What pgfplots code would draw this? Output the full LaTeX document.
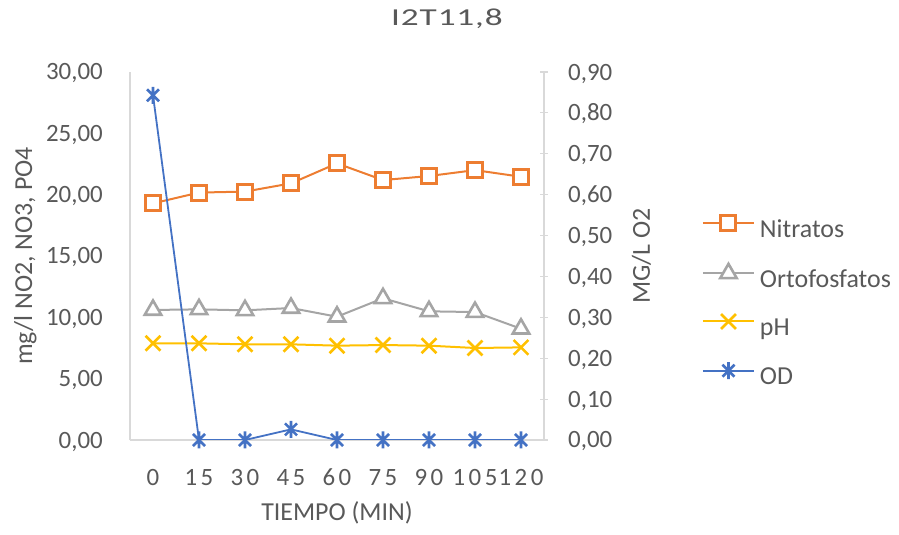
\documentclass[border=0pt]{standalone}
\usepackage{pgfplots}
\pgfplotsset{compat=1.18}
\usepackage{fontspec}
\setmainfont{Carlito}
\definecolor{txt}{HTML}{595959}
\definecolor{axg}{HTML}{D9D9D9}
\definecolor{cor}{HTML}{ED7D31}
\definecolor{cgr}{HTML}{A5A5A5}
\definecolor{cye}{HTML}{FFC000}
\definecolor{cbl}{HTML}{4472C4}
\newcommand{\ks}{\kern3.5bp}
\newcommand{\kt}{\kern0.6bp}
\pgfdeclareplotmark{xstar}{%
  \pgfpathmoveto{\pgfqpoint{-.707\pgfplotmarksize}{-.707\pgfplotmarksize}}%
  \pgfpathlineto{\pgfqpoint{.707\pgfplotmarksize}{.707\pgfplotmarksize}}%
  \pgfpathmoveto{\pgfqpoint{-.707\pgfplotmarksize}{.707\pgfplotmarksize}}%
  \pgfpathlineto{\pgfqpoint{.707\pgfplotmarksize}{-.707\pgfplotmarksize}}%
  \pgfpathmoveto{\pgfqpoint{0pt}{-\pgfplotmarksize}}%
  \pgfpathlineto{\pgfqpoint{0pt}{\pgfplotmarksize}}%
  \pgfusepathqstroke}
\pgfplotsset{
  nitr/.style={color=cor, line width=2bp, mark=square*, mark size=7.5bp, mark options={solid, fill=white, draw=cor, line width=3bp}},
  orto/.style={color=cgr, line width=2bp, mark=triangle*, mark size=9.5bp, mark options={solid, fill=white, draw=cgr, line width=2.6bp}},
  phs/.style={color=cye, line width=2bp, mark=x, mark size=10.5bp, mark options={solid, draw=cye, line width=2.6bp}},
  ods/.style={color=cbl, line width=1.8bp, mark=xstar, mark size=8.5bp, mark options={solid, draw=cbl, line width=2.6bp}},
  common/.style={
    at={(130bp,95bp)}, anchor=south west,
    scale only axis, width=414bp, height=368bp,
    xmin=-0.5, xmax=8.5,
    axis line style={draw=axg, line width=1.2bp},
    /pgf/number format/assume math mode=true,
    /pgf/number format/.cd, fixed, fixed zerofill, precision=2, use comma, /pgfplots/.cd,
    tick label style={font=\fontsize{25}{30}\selectfont, text=txt},
    legend image code/.code={\draw[mark repeat=2,mark phase=2,#1] plot coordinates {(0bp,8bp) (25.5bp,8bp) (51bp,8bp)};},
  },
}
\begin{document}
\begin{tikzpicture}
\path[use as bounding box] (0,0) rectangle (899bp,535bp);
\node[anchor=base, text=txt, inner sep=0pt, xscale=1.45, font=\fontsize{24.4}{29}\selectfont] at (447bp,509.3bp) {I\kt 2\kt T\kt 1\kt 1\kt ,\kt 8};
\begin{axis}[common,
  ymin=0, ymax=30,
  axis x line*=bottom, axis y line*=left,
  xtick={0,...,8}, xticklabels={0,1\ks5,3\ks0,4\ks5,6\ks0,7\ks5,9\ks0,1\ks0\ks5,1\ks2\ks0},
  ytick={0,5,...,30},
  major tick length=0pt,
  xticklabel style={anchor=base, inner sep=0pt, yshift=-45bp},
  yticklabel style={anchor=base east, inner sep=0pt, xshift=-27bp, yshift=-8bp},
  xlabel={TIEMPO (MIN)},
  xlabel style={at={(axis description cs:0.5,-0.2201)}, anchor=base, font=\fontsize{26}{31}\selectfont, text=txt, inner sep=0pt},
  ylabel={mg/l NO2, NO3, PO4},
  ylabel style={at={(axis description cs:-0.2367,0.5)}, anchor=base, rotate=0, font=\fontsize{26}{31}\selectfont, text=txt, inner sep=0pt},
]
\addplot[nitr] coordinates {(0,19.29) (1,20.17) (2,20.25) (3,20.92) (4,22.55) (5,21.19) (6,21.52) (7,22.0) (8,21.46)};
\addplot[orto] coordinates {(0,10.6) (1,10.65) (2,10.57) (3,10.76) (4,10.05) (5,11.55) (6,10.49) (7,10.43) (8,9.07)};
\addplot[phs] coordinates {(0,7.88) (1,7.88) (2,7.8) (3,7.8) (4,7.69) (5,7.74) (6,7.69) (7,7.5) (8,7.55)};
\end{axis}
\begin{axis}[common,
  ymin=0, ymax=0.9,
  axis y line*=right, axis x line=none,
  ytick={0,0.1,...,0.9},
  major tick length=8bp, tick align=center,
  ytick style={draw=axg, line width=1.2bp},
  yticklabel style={anchor=base west, inner sep=0pt, xshift=20bp, yshift=-8bp},
  ylabel={MG/L O2},
  ylabel style={at={(axis description cs:1.256,0.5)}, anchor=base, rotate=0, font=\fontsize{26}{31}\selectfont, text=txt, inner sep=0pt},
  legend cell align=left,
  legend style={at={(axis description cs:1.3816,0.6096)}, anchor=north west, draw=none, fill=none, inner sep=0pt, outer sep=0pt,
    font=\fontsize{26}{31}\selectfont, text=txt, row sep=20.7bp,
    nodes={inner sep=0pt, text height=18bp, text depth=6bp},
    /tikz/every odd column/.append style={column sep=5bp}},
]
\addlegendimage{nitr}\addlegendentry{Nitratos}
\addlegendimage{orto}\addlegendentry{Ortofosfatos}
\addlegendimage{phs}\addlegendentry{pH}
\addplot[ods] coordinates {(0,0.843) (1,0) (2,0) (3,0.026) (4,0) (5,0) (6,0) (7,0) (8,0)};
\addlegendentry{OD}
\end{axis}
\end{tikzpicture}
\end{document}
